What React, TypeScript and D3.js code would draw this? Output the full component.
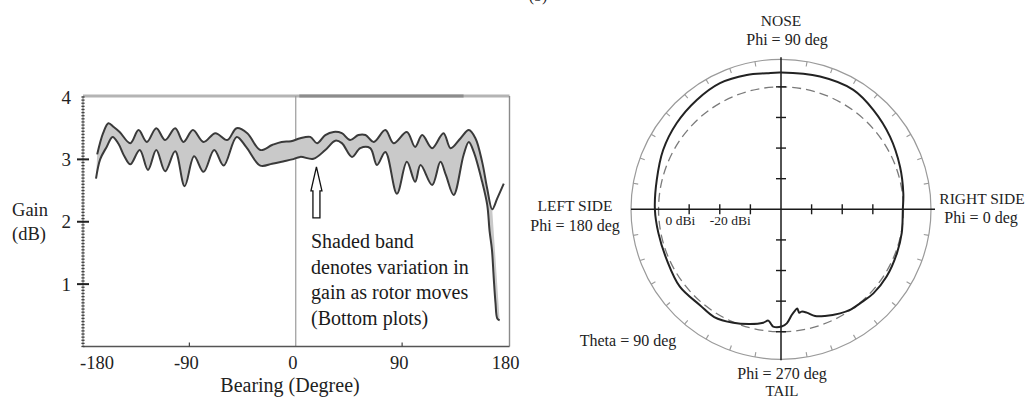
import React from "react";
import * as d3 from "d3";

// ---------- Left chart data: Gain (dB) vs Bearing (deg) ----------
const upperBearing = [-168, -163, -158.5, -154, -149, -140, -133, -126, -118, -110.5, -102, -95, -87, -78, -68, -58, -50, -41, -30, -20, -12, -4, 3.8, 12.3, 18, 25, 32, 39, 46, 53, 59, 66, 75.8, 82.8, 94, 101, 107, 115.4, 125, 131, 139.5, 146.4, 152, 157.7, 162, 166.2, 170.4, 176];
const upperGain = [3.08, 3.42, 3.58, 3.52, 3.44, 3.26, 3.47, 3.28, 3.5, 3.31, 3.5, 3.28, 3.47, 3.28, 3.42, 3.31, 3.5, 3.42, 3.15, 3.23, 3.28, 3.29, 3.34, 3.36, 3.26, 3.39, 3.44, 3.42, 3.31, 3.39, 3.39, 3.28, 3.47, 3.26, 3.44, 3.2, 3.39, 3.18, 3.42, 3.18, 3.34, 3.47, 3.34, 2.96, 2.53, 2.2, 2.37, 2.61];

const lowerBearing = [-169, -165.5, -160, -155, -150, -145, -140, -132, -125, -118, -110.5, -102, -94, -86, -78, -69, -61, -50, -42, -30, -20, -10, -3, 3.8, 15, 25, 33.5, 39, 47.6, 54.6, 63, 68.7, 75.8, 85.6, 94, 101, 105.6, 115.4, 122.4, 127, 133.6, 142, 146.4, 150.6, 157.7, 162, 164, 166, 167.5, 169, 170.5, 172.5];
const lowerGain = [2.69, 3.0, 3.2, 3.36, 3.25, 3.05, 2.92, 3.15, 2.83, 3.15, 2.81, 3.13, 2.57, 3.05, 2.8, 3.15, 2.9, 3.36, 3.2, 2.9, 2.93, 2.97, 3.0, 3.04, 3.01, 3.15, 3.3, 3.26, 3.04, 3.18, 3.18, 2.91, 3.12, 2.45, 2.96, 2.64, 2.91, 2.59, 2.96, 2.75, 2.43, 3.07, 3.28, 3.12, 2.64, 2.27, 1.85, 1.55, 1.1, 0.7, 0.45, 0.42];

const xTicks = [-180, -90, 0, 90, 180];
const yTicks = [1, 2, 3, 4];
const captionLines = ["Shaded band", "denotes variation in", "gain as rotor moves", "(Bottom plots)"];

// ---------- Right chart data: polar pattern (Phi deg, gain dBi) ----------
const patternPhi = [0, 7.5, 19.7, 33.7, 47, 58.8, 73.6, 90, 96, 104.3, 115.8, 127.6, 140.5, 153.3, 166.7, 180, 191, 204, 217.4, 229.8, 238.2, 247.2, 254.9, 261.1, 263.5, 265.4, 266.2, 270.3, 272.9, 275.8, 277.9, 279.3, 280, 281.4, 284, 287.7, 292.4, 299.6, 305, 311, 317.7, 327.5, 339.2, 348.8];
const patternGain = [-0.2, 0.3, 1.3, 2.8, 4.3, 5.6, 5.2, 4.7, 4.7, 5.3, 5.8, 5.1, 4.2, 3.1, 1.7, 1.2, 0.8, 0.8, 1.6, 1.0, 1.4, 0.2, -1.2, -2.5, -3.4, -2.1, -1.6, -1.7, -2.7, -5.3, -6.6, -7.2, -5.7, -5.9, -5.2, -3.4, -2.3, -0.9, -0.1, 0.2, 0.8, 0.9, 0.5, 0.2];
const isotropicDb = 0;
const radialTicksV = [-30, -20, -10, 0];
const radialTicksH = [-30, -20, -10];
const ringTickDeg = d3.range(0, 360, 10);

const FONT = "'Liberation Serif', 'Times New Roman', serif";

export default function App() {
  // left chart scales
  const x = d3.scaleLinear().domain([-180, 180]).range([83, 508.5]);
  const y = d3.scaleLinear().domain([0, 4]).range([346.5, 97]);

  const upper = upperBearing.map((b, i) => [b, upperGain[i]] as [number, number]);
  const lower = lowerBearing.map((b, i) => [b, lowerGain[i]] as [number, number]);
  const line = d3
    .line<[number, number]>()
    .x((d) => x(d[0]))
    .y((d) => y(d[1]))
    .curve(d3.curveCatmullRom.alpha(0.5));
  const minIdx = upperGain.indexOf(d3.min(upperGain.slice(30)) as number);
  const upperSub = upper.slice(0, minIdx + 1);
  const lowerRev = lower.slice().reverse();
  const bandPath = (line(upperSub) || "") + (line(lowerRev) || "").replace(/^M/, "L") + "Z";

  const minor = d3.range(0, 4.0001, 0.05);

  // polar
  const cx = 781;
  const cy = 209.3;
  const r = d3.scaleLinear().domain([-40, 9]).range([0, 150]);
  const R = r(9);
  const toA = (phi: number) => ((90 - phi) * Math.PI) / 180;
  const pattern = patternPhi.map((p, i) => [p, patternGain[i]] as [number, number]);
  const radial = d3
    .lineRadial<[number, number]>()
    .angle((d) => toA(d[0]))
    .radius((d) => r(d[1]))
    .curve(d3.curveCatmullRomClosed.alpha(0.5));

  const arrowX = x(17.5);
  const arrowTip = y(2.88);

  return (
    <svg
      width={1027}
      height={399}
      style={{ position: "absolute", left: 0, top: 0, background: "#fff" }}
      fontFamily={FONT}
    >
      <rect x={0} y={0} width={1027} height={399} fill="#fff" />
      <text x={538} y={1} fontSize={16} textAnchor="middle" fill="#222">(b)</text>

      {/* ---------- LEFT CHART ---------- */}
      <line x1={x(-180)} x2={x(180) + 1} y1={96} y2={96} stroke="#b4b4b4" strokeWidth={3} />
      <line x1={x(3)} x2={x(142)} y1={96} y2={96} stroke="#8c8c8c" strokeWidth={3} />
      <line x1={x(180) + 1} x2={x(180) + 1} y1={96} y2={y(0)} stroke="#8a8a8a" strokeWidth={1.4} />
      <line x1={x(0)} x2={x(0)} y1={96} y2={y(0)} stroke="#9a9a9a" strokeWidth={1.2} />
      <line x1={x(-180)} x2={x(180) + 1} y1={y(0)} y2={y(0)} stroke="#555" strokeWidth={1.6} />
      <line x1={x(-180)} x2={x(-180)} y1={96} y2={y(0)} stroke="#777" strokeWidth={1} />
      {minor.map((v) => (
        <line key={"m" + v} x1={x(-180) - 1.6} x2={x(-180) + 1.6} y1={y(v)} y2={y(v)} stroke="#444" strokeWidth={1.3} />
      ))}
      {yTicks.filter((v) => v < 4).map((v) => (
        <line key={"yt" + v} x1={x(-180) - 6} x2={x(-180) + 6} y1={y(v)} y2={y(v)} stroke="#222" strokeWidth={2} />
      ))}
      {yTicks.map((v) => (
        <text key={"yl" + v} x={71} y={y(v) + 6.5} fontSize={19} textAnchor="end" fill="#222">{v}</text>
      ))}
      {xTicks.filter((v) => v === -90 || v === 90).map((v) => (
        <line key={"xt" + v} x1={x(v)} x2={x(v)} y1={y(0)} y2={y(0) - 4} stroke="#444" strokeWidth={1.2} />
      ))}
      {xTicks.map((v, i) => (
        <text
          key={"xl" + v}
          x={x(v) - 3}
          y={369}
          fontSize={18.5}
          textAnchor={i === 0 ? "start" : "middle"}
          fill="#222"
        >
          {v}
        </text>
      ))}
      <text x={290} y={392} fontSize={20} textAnchor="middle" fill="#222">Bearing (Degree)</text>
      <text x={30} y={216} fontSize={18.5} textAnchor="middle" fill="#222">Gain</text>
      <text x={29} y={240} fontSize={18.5} textAnchor="middle" fill="#222">(dB)</text>

      <path d={bandPath} fill="#c9c9c9" stroke="none" />
      <path d={line(upper) || ""} fill="none" stroke="#3a3a3a" strokeWidth={2} strokeLinejoin="round" />
      <path d={line(lower) || ""} fill="none" stroke="#3a3a3a" strokeWidth={2} strokeLinejoin="round" />

      <polygon
        points={[
          [arrowX, arrowTip],
          [arrowX + 5.5, arrowTip + 24],
          [arrowX + 3.5, arrowTip + 24],
          [arrowX + 3.5, arrowTip + 51],
          [arrowX - 3.5, arrowTip + 51],
          [arrowX - 3.5, arrowTip + 24],
          [arrowX - 5.5, arrowTip + 24],
        ]
          .map((p) => p.join(","))
          .join(" ")}
        fill="#fff"
        stroke="#111"
        strokeWidth={1.3}
      />
      {captionLines.map((t, i) => (
        <text key={t} x={311} y={248 + i * 25.7} fontSize={20} fill="#1a1a1a">{t}</text>
      ))}

      {/* ---------- RIGHT (POLAR) CHART ---------- */}
      <g transform={`translate(${cx},${cy})`}>
        <circle r={R} fill="none" stroke="#9a9a9a" strokeWidth={1.2} />
        {ringTickDeg.filter((d) => d % 90 !== 0).map((d) => {
          const a = (d * Math.PI) / 180;
          return (
            <line
              key={"rt" + d}
              x1={Math.cos(a) * (R - 5)}
              y1={-Math.sin(a) * (R - 5)}
              x2={Math.cos(a) * R}
              y2={-Math.sin(a) * R}
              stroke="#9a9a9a"
              strokeWidth={1.1}
            />
          );
        })}
        <circle r={r(isotropicDb)} fill="none" stroke="#7a7a7a" strokeWidth={1.3} strokeDasharray="9,5" />
        <line x1={-R} x2={R + 4} y1={0} y2={0} stroke="#1a1a1a" strokeWidth={1.5} />
        <line x1={0} x2={0} y1={-R - 2} y2={R + 1} stroke="#1a1a1a" strokeWidth={1.5} />
        {radialTicksV.map((v) => (
          <g key={"rv" + v}>
            <line x1={-5} x2={5} y1={-r(v)} y2={-r(v)} stroke="#1a1a1a" strokeWidth={1.4} />
            <line x1={-5} x2={5} y1={r(v)} y2={r(v)} stroke="#1a1a1a" strokeWidth={1.4} />
          </g>
        ))}
        {radialTicksH.map((v) => (
          <g key={"rh" + v}>
            <line x1={-r(v)} x2={-r(v)} y1={-5} y2={5} stroke="#1a1a1a" strokeWidth={1.4} />
            <line x1={r(v)} x2={r(v)} y1={-5} y2={5} stroke="#1a1a1a" strokeWidth={1.4} />
          </g>
        ))}
        <text x={-r(0) + 7} y={16} fontSize={13.5} fill="#222">0 dBi</text>
        <text x={-r(-20) - 10} y={16} fontSize={13.5} fill="#222">-20 dBi</text>
        <path d={radial(pattern) || ""} fill="none" stroke="#222" strokeWidth={2} strokeLinejoin="round" />
      </g>

      <text x={781} y={26} fontSize={15.5} textAnchor="middle" fill="#222">NOSE</text>
      <text x={787} y={45} fontSize={16} textAnchor="middle" fill="#222">Phi = 90 deg</text>
      <text x={575} y={211} fontSize={15.5} textAnchor="middle" fill="#222">LEFT SIDE</text>
      <text x={575} y={231} fontSize={16} textAnchor="middle" fill="#222">Phi = 180 deg</text>
      <text x={982} y={204} fontSize={15.5} textAnchor="middle" fill="#222">RIGHT SIDE</text>
      <text x={981} y={223} fontSize={16} textAnchor="middle" fill="#222">Phi = 0 deg</text>
      <text x={628} y={346} fontSize={16} textAnchor="middle" fill="#222">Theta = 90 deg</text>
      <text x={782} y={379} fontSize={16} textAnchor="middle" fill="#222">Phi = 270 deg</text>
      <text x={782} y={396} fontSize={15} textAnchor="middle" fill="#222">TAIL</text>
    </svg>
  );
}
